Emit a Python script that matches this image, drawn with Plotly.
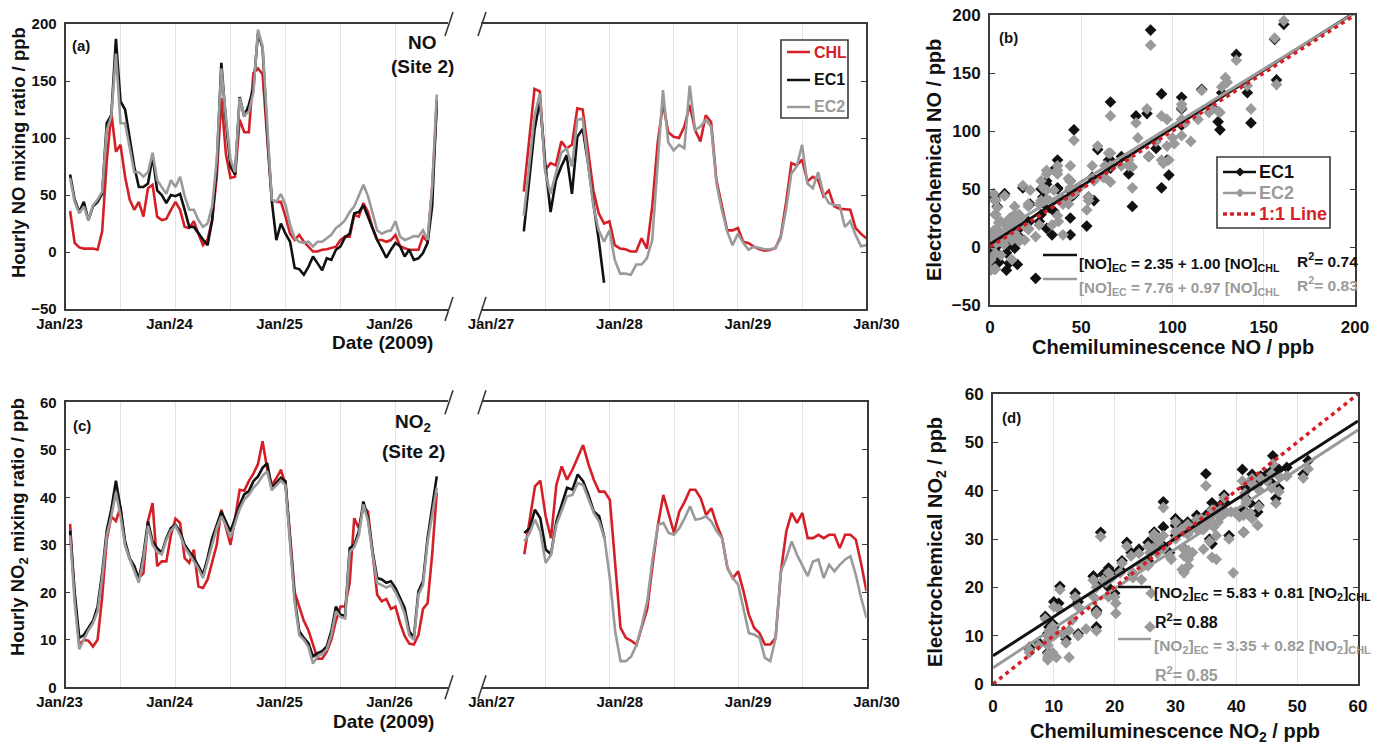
import numpy as np
import plotly.graph_objects as go

W, H = 1384, 746
FONT = "Liberation Sans, Arial, Helvetica, sans-serif"
RED, BLACK, GREY = "#d41f26", "#111111", "#9a9a9a"
AXIS = "#3a3a3a"
GRID = "#e2e2e2"

# ---------------- hourly NO (ppb), site 2 ----------------
# period 1: hourly values from 2009-01-23 01:00
no_chl_p1 = [36, 8, 4, 3, 3, 3, 2, 18, 80, 122, 88, 94, 66, 46, 37, 44, 31, 56, 59, 31,
             28, 29, 37, 44, 37, 22, 21, 27, 16, 6, 11, 28, 66, 135, 86, 65, 66, 116, 105, 105,
             157, 161, 156, 105, 46, 44, 44, 31, 16, 10.5, 15, 9, 5, 0.4, 0.4, 2, 2.4, 3.3, 4.7, 10.5,
             13.5, 13.5, 32.5, 31, 43, 35, 21, 10.5, 10.5, 9, 10.5, 15, 5, 3.3, 2, 2, 2, 13.5, 9, 57,
             127]
no_ec1_p1 = [68, 46, 35, 44, 28, 40, 44, 51, 113, 120, 187, 132, 125, 101, 75, 57, 57, 60, 84, 54,
             50, 43, 50, 49, 51, 37, 22, 22, 16, 11, 6, 28, 75, 166, 115, 75, 68, 136, 119, 129,
             144, 192, 179, 105, 45, 10.5, 25, 16, 9, -14, -15, -20, -13, -4, -10, -16, -5.5, -7, 2, 5,
             13, 16, 34, 35, 41, 31, 21, 10.5, 3, -5, 2, 8, 5, -4, 2, -7, -5.5, -1, 8, 40,
             133]
no_ec2_p1 = [65, 44, 34, 40, 28, 41, 46, 53, 107, 119, 174, 113, 113, 92, 70, 70, 66, 70, 87, 63,
             57, 51, 63, 57, 66, 49, 37, 37, 28, 22, 25, 40, 81, 161, 119, 81, 70, 135, 120, 123,
             140, 195, 180, 110, 46, 44, 51, 41, 24, 12, 9, 8, 9, 5, 9, 9, 12, 15, 21, 24,
             28, 35, 40, 49, 59, 49, 35, 19, 16, 18, 19, 27, 13.5, 10.5, 12, 14, 13.5, 19, 10.5, 57,
             138]
# period 2: hourly values from 2009-01-27 08:00
no_chl_p2 = [53, 98, 143, 141, 72, 78, 76, 97, 91, 94, 126, 125, 87, 54, 34, 25, 27, 6, 3, 2.4,
             0.4, 0.4, 12, 3, 40, 95, 130, 105, 101, 100, 110, 129, 107, 97, 120, 114, 63, 40, 19, 19,
             21, 9, 7.7, 4.7, 2.4, 1.2, 1.8, 3.3, 13.5, 43, 78, 76, 81, 62, 66, 63, 49, 54, 40, 38,
             37.5, 37, 21, 16, 12]
no_ec1_p2 = [18, 62, 107, 133, 78, 35, 63, 75, 85, 51, 101, 108, 78, 43, 10.5, -27]
no_ec2_p2 = [32, 75, 119, 139, 70, 51, 70, 87, 91, 75, 116, 117, 78, 40, 19, 9, 19, -7, -19, -19,
             -20, -11, -11, -5.5, 10.5, 72, 142, 96, 89, 94, 91, 146, 107, 110, 116, 110, 60, 37, 18, 6,
             16, 8, 2, 4.7, 3.3, 2.4, 2.4, 3.3, 12, 37, 69, 75, 94, 60, 56, 70, 51, 43, 41, 41,
             22, 27, 15, 5, 6]

# ---------------- hourly NO2 (ppb), site 2 ----------------
no2_chl_p1 = [34.4, 19, 9, 10, 9.8, 8.6, 10, 19, 31, 36, 35, 38, 30, 27, 25.5, 23, 24, 35, 38.8, 25.5,
              26.5, 26.5, 32, 35.5, 34.6, 27.2, 26.2, 29, 21.2, 20.9, 22.7, 26.5, 30, 37.4, 33.5, 30, 35.6, 41.6, 41.4, 43.4,
              45, 47, 51.8, 46, 42.6, 44, 45.8, 42.6, 32, 20, 17, 14, 12, 9, 6, 6, 7.5, 10, 14, 17,
              17, 22, 35.6, 33.5, 38, 37, 28, 19.5, 18.1, 18.6, 16.5, 17, 13.5, 10.8, 9.2, 9, 11, 16.5, 17.7, 28,
              41]
no2_ec1_p1 = [33, 20, 10.4, 11, 12.5, 14, 17, 24, 33, 37.5, 43.5, 37.7, 30.7, 27.2, 25.5, 22.7, 27.9, 34.9, 30.7, 29.3,
              28.3, 31.4, 33.5, 34.2, 32.8, 30, 28.6, 27.2, 25.5, 23.7, 27.2, 31.4, 34.2, 37, 34.9, 32.8, 35.6, 38.4, 40.6, 41.3,
              43.4, 44.4, 46.2, 47.2, 42, 43, 44.1, 43.4, 31.4, 18.8, 11.8, 10.4, 9.3, 6.5, 7.2, 7.6, 8.6, 11.8, 17, 15.3,
              15, 29.3, 30, 32.8, 39.1, 35.6, 28.6, 23, 22.7, 22, 22.3, 20.9, 18.8, 16.7, 11.8, 10.4, 20.2, 22.3, 31.4, 37.7,
              44.4]
no2_ec2_p1 = [32, 18, 8, 10, 12, 13.5, 16, 23, 32, 36, 41, 36, 30, 27, 24.5, 22, 27, 34, 30, 28.5,
              28, 31, 33, 34, 32, 29.5, 28, 26.5, 25, 23, 26.5, 30.5, 33.5, 36, 34, 31.5, 34.5, 37.5, 39.5, 40.5,
              42, 43, 44.5, 45.5, 41.5, 42.5, 43.5, 42.5, 31, 18, 11, 10, 8.5, 5, 6.5, 7, 8, 11, 16, 14.8,
              14.5, 28.5, 29.5, 32, 38.5, 35, 28, 22, 21.5, 21, 21.5, 20, 18, 15.5, 11, 10, 19.5, 21.5, 30.5, 36.5,
              42]
no2_chl_p2 = [28, 35, 42.3, 43.5, 36, 31.4, 42.6, 46.5, 43.7, 45.8, 48.3, 51, 47, 43.7, 41.2, 41.2, 39.5, 25.8, 12.5, 10.4,
              9.8, 9, 13, 16.5, 25.8, 34.2, 40.5, 36.3, 32.5, 37, 39.1, 41.6, 41.6, 39.8, 36.3, 37.7, 34.2, 31.4, 25.1, 23,
              24.4, 20.2, 15.3, 12.5, 11.4, 9, 9, 10.4, 24.4, 32.8, 36.7, 34.6, 36.7, 31.4, 31.4, 32.1, 31.4, 32.1, 32.1, 29.3,
              32.1, 32.1, 31.1, 26, 20.2]
no2_ec1_p2 = [32.5, 33.5, 37.4, 35.6, 29, 28, 34.9, 38.4, 42, 41.6, 44.8, 43.4, 40.5, 37, 36, 31.4]
no2_ec2_p2 = [30.7, 32.5, 35.3, 32.8, 26.2, 27.9, 34.2, 37.4, 40.2, 40.5, 43, 42.6, 39.8, 36.7, 34.9, 31.4, 23, 11.8, 5.5, 5.5,
              6.5, 9, 13.2, 18.1, 27.2, 34.2, 34.6, 32.5, 32.1, 33.5, 35.6, 38.1, 35.3, 35.5, 36, 34.9, 32.8, 31.4, 25.1, 23,
              21.6, 16.7, 11.4, 11.1, 10.4, 6.2, 5.5, 10.4, 24.4, 27.2, 30.7, 27.9, 25.8, 23.4, 26.5, 26.9, 23, 25.8, 24.4, 25.8,
              26.9, 27.6, 23.7, 18.8, 14.6]

# regression fits of EC against CHL: (intercept, slope, R^2)
fit_no_ec1 = (2.35, 1.00, 0.74)
fit_no_ec2 = (7.76, 0.97, 0.83)
fit_no2_ec1 = (5.83, 0.81, 0.88)
fit_no2_ec2 = (3.35, 0.82, 0.85)

# date axis ticks (day of January 2009) and half-day grid lines
ticks_p1 = [23, 24, 25, 26]
labels_p1 = ["Jan/23", "Jan/24", "Jan/25", "Jan/26"]
halfdays_p1 = [23.5, 24.5, 25.5]
ticks_p2 = [27, 28, 29, 30]
labels_p2 = ["Jan/27", "Jan/28", "Jan/29", "Jan/30"]
halfdays_p2 = [27.5, 28.5, 29.5]

# hourly time stamps as fractional days
start_p1, start_p2 = 23, 27
first_hour_p1, first_hour_p2 = 1, 8
t_p1 = start_p1 + (first_hour_p1 + np.arange(len(no_chl_p1))) / 24
t_p2 = start_p2 + (first_hour_p2 + np.arange(len(no_chl_p2))) / 24


def fx(px):
    return px / W


def fy(py):
    return 1 - py / H


fig = go.Figure()


def series(ax, t, y, color):
    fig.add_trace(go.Scatter(x=t, y=y, mode="lines", xaxis="x" + ax, yaxis="y" + ax,
                             line=dict(color=color, width=2.6), showlegend=False,
                             hoverinfo="skip"))


# time series panels: (a) NO, (c) NO2, each split into two periods
for ax_l, ax_r, chl1, ec11, ec21, chl2, ec12, ec22 in [
    ("", "2", no_chl_p1, no_ec1_p1, no_ec2_p1, no_chl_p2, no_ec1_p2, no_ec2_p2),
    ("4", "5", no2_chl_p1, no2_ec1_p1, no2_ec2_p1, no2_chl_p2, no2_ec1_p2, no2_ec2_p2),
]:
    series(ax_l, t_p1, chl1, RED)
    series(ax_l, t_p1, ec11, BLACK)
    series(ax_l, t_p1, ec21, GREY)
    series(ax_r, t_p2, chl2, RED)
    series(ax_r, t_p2[:len(ec12)], ec12, BLACK)
    series(ax_r, t_p2, ec22, GREY)


# scatter panels: (b) NO, (d) NO2 -- hourly pairs of EC vs CHL
def scatter_panel(ax, chl1, ec11, ec21, chl2, ec12, ec22, fit1, fit2, xmax):
    x1 = list(chl1) + list(chl2[:len(ec12)])
    y1 = list(ec11) + list(ec12)
    x2 = list(chl1) + list(chl2)
    y2 = list(ec21) + list(ec22)
    fig.add_trace(go.Scatter(x=x1, y=y1, mode="markers", xaxis="x" + ax, yaxis="y" + ax,
                             marker=dict(symbol="diamond", size=9, color=BLACK, line=dict(width=0)),
                             showlegend=False, hoverinfo="skip"))
    fig.add_trace(go.Scatter(x=x2, y=y2, mode="markers", xaxis="x" + ax, yaxis="y" + ax,
                             marker=dict(symbol="diamond", size=9, color=GREY, line=dict(width=0)),
                             showlegend=False, hoverinfo="skip"))
    xs = np.array([0, xmax])
    for (a, b, _), col in [(fit1, BLACK), (fit2, GREY)]:
        fig.add_trace(go.Scatter(x=xs, y=a + b * xs, mode="lines", xaxis="x" + ax, yaxis="y" + ax,
                                 line=dict(color=col, width=3), showlegend=False, hoverinfo="skip"))
    fig.add_trace(go.Scatter(x=xs, y=xs, mode="lines", xaxis="x" + ax, yaxis="y" + ax,
                             line=dict(color=RED, width=3.5, dash="4px,4px"), showlegend=False,
                             hoverinfo="skip"))


scatter_panel("3", no_chl_p1, no_ec1_p1, no_ec2_p1, no_chl_p2, no_ec1_p2, no_ec2_p2,
              fit_no_ec1, fit_no_ec2, 200)
scatter_panel("6", no2_chl_p1, no2_ec1_p1, no2_ec2_p1, no2_chl_p2, no2_ec1_p2, no2_ec2_p2,
              fit_no2_ec1, fit_no2_ec2, 60)


def tfont(size):
    return dict(family=FONT, size=size, color=BLACK, weight="bold")


def date_axis(x0, x1, rng, ticks, labels, halfdays, anchor, shift):
    return dict(domain=[fx(x0), fx(x1)], range=rng, anchor=anchor, tickmode="array",
                tickvals=ticks, ticktext=labels, ticks="", showline=True, mirror=True,
                linecolor=AXIS, linewidth=1.8, showgrid=True, gridcolor=GRID, gridwidth=1,
                minor=dict(tickmode="array", tickvals=halfdays, ticks="", showgrid=True,
                           gridcolor=GRID, gridwidth=1),
                zeroline=False, tickfont=tfont(15), ticklabelshift=shift, ticklabelstandoff=0,
                automargin=False)


def value_axis(y0, y1, rng, dtick, anchor, right=False):
    d = dict(domain=[fy(y1), fy(y0)], range=rng, dtick=dtick, anchor=anchor, ticks="inside",
             ticklen=5, tickcolor=AXIS, showline=True, linecolor=AXIS, linewidth=1.8,
             showgrid=False, zeroline=False, tickfont=tfont(15), ticklabelstandoff=4,
             automargin=False)
    if right:
        d.update(side="right", showticklabels=False)
    return d


def xy_axis(x0, x1, rng, dtick, anchor):
    return dict(domain=[fx(x0), fx(x1)], range=rng, dtick=dtick, anchor=anchor, ticks="",
                showline=True, mirror=True, linecolor=AXIS, linewidth=1.8, showgrid=True,
                gridcolor=GRID, gridwidth=1, zeroline=False, tickfont=tfont(17),
                ticklabelstandoff=6, automargin=False)


def xy_yaxis(y0, y1, rng, dtick, anchor):
    return dict(domain=[fy(y1), fy(y0)], range=rng, dtick=dtick, anchor=anchor, ticks="inside",
                ticklen=5, tickcolor=AXIS, showline=True, mirror="ticks", linecolor=AXIS,
                linewidth=1.8, showgrid=False, zeroline=False, tickfont=tfont(17),
                ticklabelstandoff=4, automargin=False)


left_span = [23, 23 + (448 - 65.5) / 110]
layout_axes = dict(
    xaxis=date_axis(65.5, 448, left_span, ticks_p1, labels_p1, halfdays_p1, "y", -6),
    yaxis=value_axis(24, 309, [-50, 200], 50, "x"),
    xaxis2=date_axis(481, 866.3, [27, 30], ticks_p2, labels_p2, halfdays_p2, "y2", 10),
    yaxis2=value_axis(24, 309, [-50, 200], 50, "x2", right=True),
    xaxis3=xy_axis(990, 1355, [0, 200], 50, "y3"),
    yaxis3=xy_yaxis(15, 305, [-50, 200], 50, "x3"),
    xaxis4=date_axis(65.5, 448, left_span, ticks_p1, labels_p1, halfdays_p1, "y4", -6),
    yaxis4=value_axis(402.3, 687.3, [0, 60], 10, "x4"),
    xaxis5=date_axis(481.5, 866.5, [27, 30], ticks_p2, labels_p2, halfdays_p2, "y5", 10),
    yaxis5=value_axis(402.3, 687.3, [0, 60], 10, "x5", right=True),
    xaxis6=xy_axis(993, 1358, [0, 60], 10, "y6"),
    yaxis6=xy_yaxis(394, 684, [0, 60], 10, "x6"),
)


def note(x, y, text, size, color=BLACK, xanchor="center", angle=0):
    return dict(x=fx(x), y=fy(y), xref="paper", yref="paper", text=text, showarrow=False,
                xanchor=xanchor, yanchor="middle", textangle=angle,
                font=dict(family=FONT, size=size, color=color, weight="bold"))


def seg(x0, y0, x1, y1, color, width=2.5, dash="solid"):
    return dict(type="line", xref="paper", yref="paper", x0=fx(x0), y0=fy(y0), x1=fx(x1),
                y1=fy(y1), line=dict(color=color, width=width, dash=dash))


def box(x0, y0, x1, y1):
    return dict(type="rect", xref="paper", yref="paper", x0=fx(x0), y0=fy(y0), x1=fx(x1),
                y1=fy(y1), line=dict(color=AXIS, width=1.6), fillcolor="white", layer="above")


def diamond(cx, cy, r, color):
    path = (f"M {fx(cx)} {fy(cy - r)} L {fx(cx + r)} {fy(cy)} L {fx(cx)} {fy(cy + r)} "
            f"L {fx(cx - r)} {fy(cy)} Z")
    return dict(type="path", xref="paper", yref="paper", path=path, fillcolor=color,
                line=dict(color=color, width=0))


annotations = [
    # panel (a)
    note(81, 45, "(a)", 15),
    note(422, 42, "NO", 19),
    note(422, 66, "(Site 2)", 19),
    note(18, 153, "Hourly NO mixing ratio / ppb", 18.5, angle=-90),
    note(382, 342, "Date (2009)", 19),
    note(812, 52, "CHL", 16, RED, "left"),
    note(812, 80, "EC1", 16, BLACK, "left"),
    note(812, 107, "EC2", 16, GREY, "left"),
    # panel (b)
    note(1008, 37, "(b)", 15),
    note(934, 160, "Electrochemical NO / ppb", 20, angle=-90),
    note(1173, 347, "Chemiluminescence NO / ppb", 20),
    note(1257, 172, "EC1", 18, BLACK, "left"),
    note(1257, 193, "EC2", 18, GREY, "left"),
    note(1257, 214, "1:1 Line", 18, RED, "left"),
    note(1077, 264, f"[NO]<sub>EC</sub> = {fit_no_ec1[0]:.2f} + {fit_no_ec1[1]:.2f} [NO]<sub>CHL</sub>",
         15.2, BLACK, "left"),
    note(1295, 260, f"R<sup>2</sup>= {fit_no_ec1[2]:.2f}", 15.5, BLACK, "left"),
    note(1077, 288, f"[NO]<sub>EC</sub> = {fit_no_ec2[0]:.2f} + {fit_no_ec2[1]:.2f} [NO]<sub>CHL</sub>",
         15.2, GREY, "left"),
    note(1295, 284, f"R<sup>2</sup>= {fit_no_ec2[2]:.2f}", 15.5, GREY, "left"),
    # panel (c)
    note(82, 425, "(c)", 15),
    note(413, 423, "NO<sub>2</sub>", 19),
    note(413, 452, "(Site 2)", 19),
    note(19, 527, "Hourly NO<sub>2</sub> mixing ratio / ppb", 18.5, angle=-90),
    note(383, 721, "Date (2009)", 19),
    # panel (d)
    note(1011, 417, "(d)", 15),
    note(936, 542, "Electrochemical NO<sub>2</sub> / ppb", 20, angle=-90),
    note(1175, 732, "Chemiluminescence NO<sub>2</sub> / ppb", 20),
    note(1152, 593,
         f"[NO<sub>2</sub>]<sub>EC</sub> = {fit_no2_ec1[0]:.2f} + {fit_no2_ec1[1]:.2f} [NO<sub>2</sub>]<sub>CHL</sub>",
         15.5, BLACK, "left"),
    note(1153, 621, f"R<sup>2</sup>= {fit_no2_ec1[2]:.2f}", 16, BLACK, "left"),
    note(1152, 646,
         f"[NO<sub>2</sub>]<sub>EC</sub> = {fit_no2_ec2[0]:.2f} + {fit_no2_ec2[1]:.2f} [NO<sub>2</sub>]<sub>CHL</sub>",
         15.5, GREY, "left"),
    note(1153, 674, f"R<sup>2</sup>= {fit_no2_ec2[2]:.2f}", 16, GREY, "left"),
]

shapes = []
# axis-break marks
for yb in (24, 309, 402.3, 687.3):
    for xb in (449, 482):
        shapes.append(seg(xb - 4, yb + 12, xb + 4, yb - 12, AXIS, 1.6))
# legend of panel (a)
shapes += [box(781, 40, 848, 118),
           seg(787, 52, 810, 52, RED), seg(787, 80, 810, 80, BLACK), seg(787, 107, 810, 107, GREY)]
# legend of panel (b)
shapes += [box(1217, 157, 1330, 228),
           seg(1223, 172, 1256, 172, BLACK), diamond(1240, 172, 4.5, BLACK),
           seg(1223, 193, 1256, 193, GREY), diamond(1240, 193, 4.5, GREY),
           seg(1223, 214, 1256, 214, RED, 3.5, "4px,3px")]
# regression keys
shapes += [seg(1043, 255, 1077, 255, BLACK, 2.5), seg(1043, 279, 1077, 279, GREY, 2.5),
           seg(1118, 587, 1151, 587, BLACK, 2.5), seg(1118, 639, 1151, 639, GREY, 2.5)]

fig.update_layout(
    template="none",
    width=W, height=H, autosize=False,
    margin=dict(l=0, r=0, t=0, b=0, pad=0),
    paper_bgcolor="white", plot_bgcolor="white",
    showlegend=False,
    annotations=annotations,
    shapes=shapes,
    **layout_axes,
)

fig.write_html("out.html")
